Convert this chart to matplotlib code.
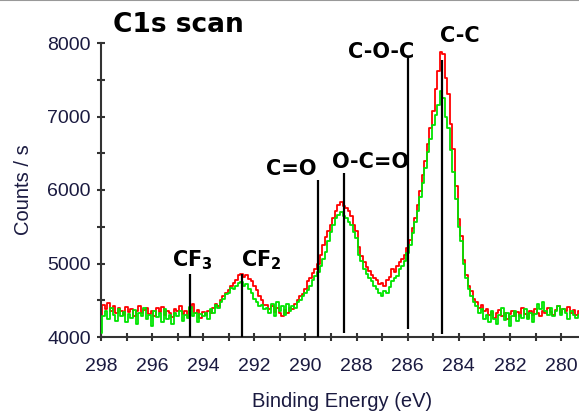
#!/usr/bin/env python3

import numpy as np
import matplotlib.pyplot as plt
from matplotlib.ticker import MultipleLocator
from matplotlib.lines import Line2D

# binding energy grid, 0.1 eV steps from 298.0 down to 279.3 eV
energy = np.round(np.arange(298.0, 279.25, -0.1), 2)

# C1s counts, first scan (red)
counts_red = [
    4300, 4440, 4380, 4460, 4350, 4420, 4330, 4390, 4360, 4300,
    4410, 4340, 4380, 4290, 4350, 4420, 4330, 4370, 4400, 4310,
    4360, 4280, 4390, 4340, 4410, 4300, 4360, 4330, 4270, 4380,
    4350, 4420, 4310, 4360, 4290, 4400, 4450, 4330, 4370, 4260,
    4340,
    4300, 4360, 4330, 4400, 4450, 4420, 4500, 4560, 4600, 4640,
    4700, 4730, 4780, 4840, 4860, 4820, 4850, 4790, 4760, 4690,
    4640, 4560, 4500, 4440, 4430, 4380, 4420, 4340, 4400, 4320,
    4280, 4370, 4330, 4400, 4380, 4450, 4500, 4560, 4580, 4650,
    4760, 4800, 4870, 4920, 5000, 5120, 5250, 5360, 5440, 5520,
    5620, 5720, 5800, 5830, 5780, 5760, 5720, 5640, 5520, 5440,
    5220, 5100, 5020, 4950, 4900, 4840, 4800, 4780, 4720, 4740,
    4700, 4780, 4820, 4920, 4880, 4960, 5020, 5060, 5120, 5210,
    5320, 5480, 5620, 5800, 5990, 6200, 6400, 6620, 6850, 7080,
    7380, 7620, 7880, 7850, 7520, 7300, 6900, 6560, 6050, 5600,
    5380, 5050, 4850, 4700, 4620, 4520, 4480, 4400, 4430, 4350,
    4380, 4300, 4340, 4260, 4320, 4370, 4280, 4330, 4250, 4310,
    4360, 4290, 4340, 4280, 4400, 4310, 4260, 4350, 4300, 4380,
    4330, 4290, 4360, 4320, 4400, 4340, 4300, 4370, 4420, 4330,
    4380, 4350, 4410, 4330, 4370, 4300, 4350,
]

# C1s counts, second scan (green)
counts_green = [
    4050, 4280, 4350, 4250, 4400, 4300, 4220, 4380, 4290, 4340,
    4200, 4310, 4260, 4370, 4180, 4330, 4280, 4400, 4240, 4300,
    4150, 4350, 4270, 4320, 4200, 4380, 4250, 4300, 4180, 4330,
    4290, 4360, 4220, 4300, 4260, 4410, 4280, 4330, 4200, 4310,
    4280,
    4330, 4250, 4380, 4320, 4430, 4400, 4480, 4520, 4580, 4600,
    4660, 4650, 4700, 4730, 4750, 4700, 4720, 4650, 4600, 4520,
    4480, 4420, 4440, 4380, 4400, 4330, 4450, 4290, 4480, 4360,
    4420, 4300, 4450, 4350, 4420, 4400, 4480, 4500, 4560, 4600,
    4640, 4700, 4780, 4830, 4880, 4960, 5060, 5150, 5300, 5430,
    5520, 5620, 5660, 5700, 5650, 5620, 5570, 5520, 5430, 5350,
    5120, 5040, 4920, 4860, 4800, 4760, 4700, 4650, 4600, 4560,
    4620, 4600, 4680, 4760, 4800, 4830, 4920, 4960, 5040, 5140,
    5250, 5420, 5560, 5720, 5900, 6100, 6300, 6520, 6700, 6880,
    7020, 7150, 7350, 7250, 7000, 6850, 6550, 6250, 5880, 5500,
    5300, 5000, 4800, 4650, 4560, 4480, 4420, 4330, 4380, 4250,
    4300, 4200, 4350, 4250, 4180, 4300, 4400, 4230, 4320, 4150,
    4280, 4350, 4220, 4300, 4260, 4380, 4250, 4330, 4200, 4310,
    4450, 4380, 4480, 4350, 4300, 4400, 4280, 4350, 4420, 4300,
    4380, 4330, 4250, 4350, 4300, 4260, 4300,
]

# peak assignments: label, energy (eV), marker top and bottom (counts/s)
peak_labels = [r'$\mathbf{CF_3}$', r'$\mathbf{CF_2}$', 'C=O', 'O-C=O', 'C-O-C', 'C-C']
peak_pos = [294.5, 292.5, 289.5, 288.5, 286.0, 284.65]
peak_top = [4860, 4860, 6140, 6230, 7810, 7770]
peak_bottom = [4000, 4000, 4000, 4050, 4110, 4040]

# label offsets from top of each marker line (points)
label_offsets = [(1.5, 5), (14, 5), (-19.5, 3.6), (19.5, 3.6), (-19.5, -0.7), (13, 13)]

tick_color = '#1a1a40'
spine_color = '#333333'
axis_font = 'Liberation Sans'

plt.rcParams['mathtext.fontset'] = 'dejavusans'

fig = plt.figure(figsize=(5.79, 4.13), dpi=100)
ax = fig.add_axes([101 / 579, 1 - 337 / 413, 478 / 579, 294 / 413])

ax.plot(energy, counts_red, color='#ff0000', lw=1.3, drawstyle='steps-mid', zorder=2)
ax.plot(energy, counts_green, color='#00e400', lw=1.3, drawstyle='steps-mid', zorder=3)

ax.vlines(peak_pos, peak_bottom, peak_top, colors='black', lw=1.6, zorder=4)
for lab, x, top, off in zip(peak_labels, peak_pos, peak_top, label_offsets):
    ax.annotate(lab, xy=(x, top), xytext=off, textcoords='offset points',
                ha='center', va='baseline', fontsize=15, fontweight='bold',
                annotation_clip=False)

ax.set_xlim(298, 279.3)
ax.set_ylim(4000, 8000)

ax.xaxis.set_major_locator(MultipleLocator(2))
ax.xaxis.set_minor_locator(MultipleLocator(1))
ax.yaxis.set_major_locator(MultipleLocator(1000))
ax.yaxis.set_minor_locator(MultipleLocator(500))

for side in ['top', 'right']:
    ax.spines[side].set_visible(False)
for side in ['left', 'bottom']:
    ax.spines[side].set_color(spine_color)
    ax.spines[side].set_linewidth(1.5)

ax.tick_params(which='both', direction='inout', length=5.8, width=1.5,
               color=spine_color, labelcolor=tick_color)
ax.tick_params(axis='x', pad=12)
ax.tick_params(axis='y', pad=4.3)
for lbl in ax.get_xticklabels() + ax.get_yticklabels():
    lbl.set_fontfamily(axis_font)
    lbl.set_fontsize(14)

ax.set_xlabel('Binding Energy (eV)', fontsize=14.5, color=tick_color, family=axis_font)
ax.set_ylabel('Counts / s', fontsize=14.5, color=tick_color, family=axis_font)
ax.xaxis.label.set_va('center')
ax.xaxis.set_label_coords(0.505, -0.218)
ax.yaxis.label.set_va('center')
ax.yaxis.set_label_coords(-0.163, 0.5)

fig.text(178 / 579, 1 - 32 / 413, 'C1s scan', ha='center', va='baseline',
         fontsize=19, fontweight='bold')

# thin frame line along the top edge
fig.add_artist(Line2D([0, 1], [0.999, 0.999], transform=fig.transFigure,
                      color='#999999', lw=1.5))

fig.savefig('out.png', dpi=100)
